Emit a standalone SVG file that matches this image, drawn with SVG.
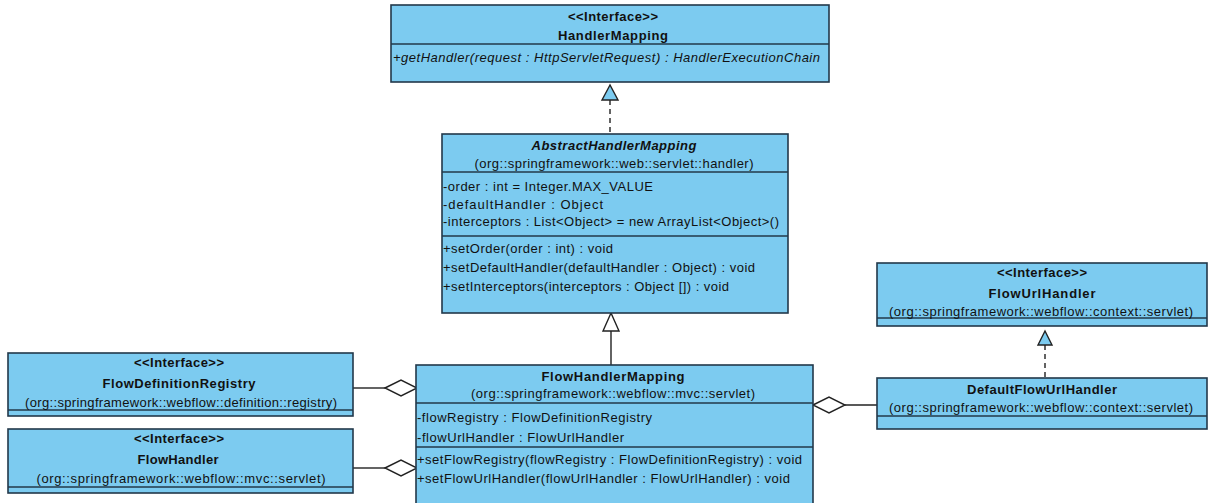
<svg xmlns="http://www.w3.org/2000/svg" width="1211" height="503" viewBox="0 0 1211 503">
  <style>
    .box { fill: #7ccbf0; stroke: #22384a; stroke-width: 1.6; }
    .sep { stroke: #22384a; stroke-width: 1.4; fill: none; }
    .t { font-family: "Liberation Sans", Arial, sans-serif; font-size: 13px; fill: #111; }
    .c { text-anchor: middle; }
    .b { font-weight: bold; }
    .i { font-style: italic; }
    .edge { stroke: #222; stroke-width: 1.4; fill: none; }
    .dash { stroke-dasharray: 5 4; }
    .hollow { fill: #ffffff; stroke: #222; stroke-width: 1.4; }
    .real { fill: #7ccbf0; stroke: #222; stroke-width: 1.4; }
  </style>

  <!-- connectors -->
  <g id="connectors">
    <!-- AbstractHandlerMapping realizes HandlerMapping -->
    <line class="edge dash" x1="610" y1="100" x2="610" y2="133"/>
    <polygon class="real" points="610,85 602,100 618,100"/>
    <!-- FlowHandlerMapping extends AbstractHandlerMapping -->
    <line class="edge" x1="611" y1="331" x2="611" y2="365"/>
    <polygon class="hollow" points="611,313 603,331 619,331"/>
    <!-- DefaultFlowUrlHandler realizes FlowUrlHandler -->
    <line class="edge dash" x1="1045" y1="345" x2="1045" y2="378"/>
    <polygon class="real" points="1045,331 1038,345 1052,345"/>
    <!-- aggregations -->
    <line class="edge" x1="353" y1="388" x2="385" y2="388"/>
    <polygon class="hollow" points="385,388 401,380 417,388 401,396"/>
    <line class="edge" x1="353" y1="468" x2="385" y2="468"/>
    <polygon class="hollow" points="385,468 401,460 417,468 401,476"/>
    <line class="edge" x1="845" y1="405" x2="878" y2="405"/>
    <polygon class="hollow" points="813,405 829,397 845,405 829,413"/>
  </g>

  <g id="HandlerMapping">
    <rect class="box" x="391" y="5" width="438" height="77"/>
    <line class="sep" x1="391" y1="44" x2="829" y2="44"/>
    <text class="t c b" x="613" y="21" textLength="90">&lt;&lt;Interface&gt;&gt;</text>
    <text class="t c b" x="613" y="40" textLength="110">HandlerMapping</text>
    <text class="t i" x="393" y="62" textLength="427">+getHandler(request : HttpServletRequest) : HandlerExecutionChain</text>
  </g>

  <g id="AbstractHandlerMapping">
    <rect class="box" x="442" y="134" width="346" height="179"/>
    <line class="sep" x1="442" y1="172" x2="788" y2="172"/>
    <line class="sep" x1="442" y1="236" x2="788" y2="236"/>
    <text class="t c b i" x="614" y="150" textLength="165">AbstractHandlerMapping</text>
    <text class="t c" x="614" y="168" textLength="279">(org::springframework::web::servlet::handler)</text>
    <text class="t" x="443" y="191" textLength="210">-order : int = Integer.MAX_VALUE</text>
    <text class="t" x="443" y="209" textLength="160">-defaultHandler : Object</text>
    <text class="t" x="443" y="226" textLength="336">-interceptors : List&lt;Object&gt; = new ArrayList&lt;Object&gt;()</text>
    <text class="t" x="443" y="253" textLength="170">+setOrder(order : int) : void</text>
    <text class="t" x="443" y="272" textLength="312">+setDefaultHandler(defaultHandler : Object) : void</text>
    <text class="t" x="443" y="291" textLength="286">+setInterceptors(interceptors : Object []) : void</text>
  </g>

  <g id="FlowHandlerMapping">
    <rect class="box" x="416" y="365" width="397" height="140"/>
    <line class="sep" x1="416" y1="403" x2="813" y2="403"/>
    <line class="sep" x1="416" y1="447" x2="813" y2="447"/>
    <text class="t c b" x="613" y="381" textLength="143">FlowHandlerMapping</text>
    <text class="t c" x="613" y="398" textLength="284">(org::springframework::webflow::mvc::servlet)</text>
    <text class="t" x="417" y="422" textLength="235">-flowRegistry : FlowDefinitionRegistry</text>
    <text class="t" x="417" y="442" textLength="207">-flowUrlHandler : FlowUrlHandler</text>
    <text class="t" x="417" y="464" textLength="385">+setFlowRegistry(flowRegistry : FlowDefinitionRegistry) : void</text>
    <text class="t" x="417" y="483" textLength="373">+setFlowUrlHandler(flowUrlHandler : FlowUrlHandler) : void</text>
  </g>

  <g id="FlowDefinitionRegistry">
    <rect class="box" x="8" y="353" width="345" height="63"/>
    <line class="sep" x1="8" y1="410" x2="353" y2="410"/>
    <text class="t c b" x="179" y="367" textLength="90">&lt;&lt;Interface&gt;&gt;</text>
    <text class="t c b" x="179" y="388" textLength="153">FlowDefinitionRegistry</text>
    <text class="t c" x="181" y="407" textLength="312">(org::springframework::webflow::definition::registry)</text>
  </g>

  <g id="FlowHandler">
    <rect class="box" x="8" y="429" width="345" height="64"/>
    <line class="sep" x1="8" y1="487" x2="353" y2="487"/>
    <text class="t c b" x="179" y="443" textLength="90">&lt;&lt;Interface&gt;&gt;</text>
    <text class="t c b" x="178" y="464" textLength="81">FlowHandler</text>
    <text class="t c" x="181" y="483" textLength="289">(org::springframework::webflow::mvc::servlet)</text>
  </g>

  <g id="FlowUrlHandler">
    <rect class="box" x="877" y="263" width="330" height="63"/>
    <line class="sep" x1="877" y1="318" x2="1207" y2="318"/>
    <text class="t c b" x="1042" y="277" textLength="90">&lt;&lt;Interface&gt;&gt;</text>
    <text class="t c b" x="1042" y="298" textLength="107">FlowUrlHandler</text>
    <text class="t c" x="1041" y="316" textLength="304">(org::springframework::webflow::context::servlet)</text>
  </g>

  <g id="DefaultFlowUrlHandler">
    <rect class="box" x="877" y="378" width="330" height="51"/>
    <line class="sep" x1="877" y1="416" x2="1207" y2="416"/>
    <text class="t c b" x="1042" y="394" textLength="150">DefaultFlowUrlHandler</text>
    <text class="t c" x="1041" y="412" textLength="304">(org::springframework::webflow::context::servlet)</text>
  </g>
</svg>
